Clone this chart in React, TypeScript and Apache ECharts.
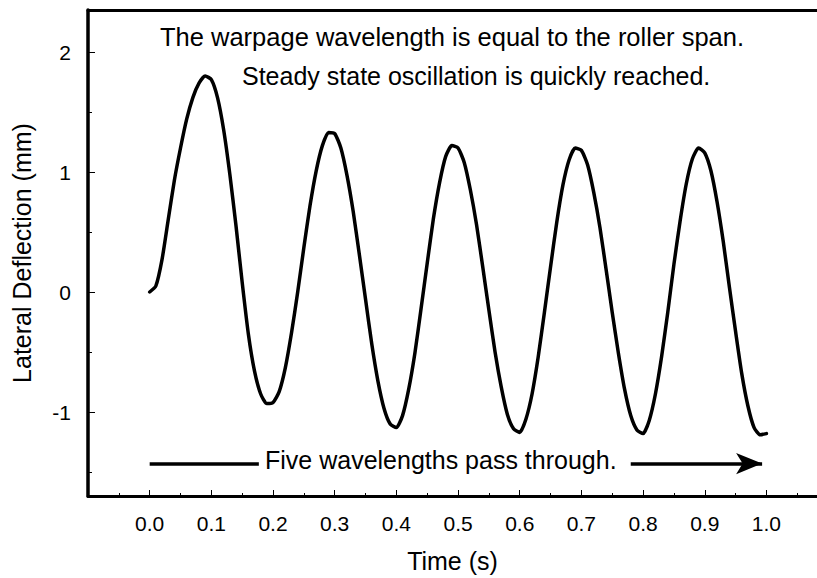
import React, { useEffect, useRef } from "react";
import * as echarts from "echarts";

const time = [
  0.0, 0.01, 0.02, 0.03, 0.04, 0.05, 0.06, 0.07, 0.08, 0.09,
  0.1, 0.11, 0.12, 0.13, 0.14, 0.15, 0.16, 0.17, 0.18, 0.19,
  0.2, 0.21, 0.22, 0.23, 0.24, 0.25, 0.26, 0.27, 0.28, 0.29,
  0.3, 0.31, 0.32, 0.33, 0.34, 0.35, 0.36, 0.37, 0.38, 0.39,
  0.4, 0.41, 0.42, 0.43, 0.44, 0.45, 0.46, 0.47, 0.48, 0.49,
  0.5, 0.51, 0.52, 0.53, 0.54, 0.55, 0.56, 0.57, 0.58, 0.59,
  0.6, 0.61, 0.62, 0.63, 0.64, 0.65, 0.66, 0.67, 0.68, 0.69,
  0.7, 0.71, 0.72, 0.73, 0.74, 0.75, 0.76, 0.77, 0.78, 0.79,
  0.8, 0.81, 0.82, 0.83, 0.84, 0.85, 0.86, 0.87, 0.88, 0.89,
  0.9, 0.91, 0.92, 0.93, 0.94, 0.95, 0.96, 0.97, 0.98, 0.99,
  1.0,
];

const deflection = [
  0.0, 0.05, 0.27, 0.6, 0.93, 1.2, 1.44, 1.62, 1.74, 1.8,
  1.77, 1.62, 1.35, 0.98, 0.55, 0.08, -0.35, -0.66, -0.85, -0.93,
  -0.92, -0.83, -0.63, -0.34, 0.0, 0.37, 0.72, 1.01, 1.22, 1.33,
  1.32, 1.2, 0.97, 0.67, 0.31, -0.06, -0.43, -0.74, -0.97, -1.1,
  -1.13, -1.03, -0.81, -0.51, -0.14, 0.24, 0.61, 0.91, 1.13, 1.22,
  1.2, 1.08, 0.85, 0.56, 0.21, -0.15, -0.5, -0.79, -1.02, -1.14,
  -1.17, -1.06, -0.85, -0.54, -0.17, 0.21, 0.58, 0.89, 1.1, 1.2,
  1.18, 1.06, 0.83, 0.54, 0.19, -0.17, -0.51, -0.81, -1.03, -1.15,
  -1.18, -1.07, -0.85, -0.54, -0.17, 0.23, 0.59, 0.9, 1.11, 1.2,
  1.16, 1.01, 0.75, 0.42, 0.04, -0.33, -0.68, -0.95, -1.13, -1.19,
  -1.18,
];

const yMajorTicks = [-1, 0, 1, 2];
const yMinorTicks = [-1.5, -0.5, 0.5, 1.5];
const noteLines = [
  "The warpage wavelength is equal to the roller span.",
  "Steady state oscillation is quickly reached.",
];
const arrowText = "Five wavelengths pass through.";
const arrowLevel = -1.43;
const arrowLeftSpan = [0.0, 0.177];
const arrowRightSpan = [0.78, 0.993];

const FONT = '"Liberation Sans", Arial, sans-serif';

export default function App() {
  const ref = useRef<HTMLDivElement>(null);

  useEffect(() => {
    const chart = echarts.init(ref.current!, null, { renderer: "svg" });
    const black = "#000";
    chart.setOption({
      animation: false,
      backgroundColor: "#fff",
      grid: { left: 88, top: 10, right: 0, bottom: 82 },
      xAxis: [
        {
          type: "value",
          min: -0.1,
          max: 1.082,
          interval: 0.1,
          name: "Time (s)",
          nameLocation: "middle",
          nameGap: 52,
          nameTextStyle: { color: black, fontSize: 25, fontFamily: FONT },
          axisLine: { show: true, onZero: false, lineStyle: { color: black, width: 3 } },
          axisTick: { show: true, inside: true, length: 6, lineStyle: { color: black, width: 1 } },
          minorTick: { show: true, splitNumber: 2, length: 3, lineStyle: { color: black, width: 1 } },
          axisLabel: {
            color: black,
            fontSize: 21,
            fontFamily: FONT,
            margin: 17,
            showMaxLabel: false,
            formatter: (v: number) => (v < -0.001 || v > 1.001 ? "" : v.toFixed(1)),
          },
          splitLine: { show: false },
          minorSplitLine: { show: false },
        },
        {
          type: "value",
          position: "top",
          min: -0.1,
          max: 1.082,
          axisLine: { show: true, onZero: false, lineStyle: { color: black, width: 3 } },
          axisTick: { show: false },
          axisLabel: { show: false },
          splitLine: { show: false },
        },
      ],
      yAxis: [
        {
          type: "value",
          min: -1.7,
          max: 2.35,
          name: "Lateral Deflection (mm)",
          nameLocation: "middle",
          nameGap: 54,
          nameTextStyle: { color: black, fontSize: 25, fontFamily: FONT },
          axisLine: { show: true, onZero: false, lineStyle: { color: black, width: 3.5 } },
          axisTick: {
            show: true,
            inside: true,
            length: 7,
            customValues: yMajorTicks,
            lineStyle: { color: black, width: 1 },
          },
          axisLabel: {
            color: black,
            fontSize: 21,
            fontFamily: FONT,
            margin: 17,
            customValues: yMajorTicks,
          },
          splitLine: { show: false },
        },
        {
          type: "value",
          min: -1.7,
          max: 2.35,
          position: "left",
          axisLine: { show: false, onZero: false },
          axisTick: {
            show: true,
            inside: true,
            length: 4,
            customValues: yMinorTicks,
            lineStyle: { color: black, width: 1 },
          },
          axisLabel: { show: false },
          splitLine: { show: false },
        },
      ],
      series: [
        {
          type: "line",
          xAxisIndex: 0,
          yAxisIndex: 0,
          data: time.map((t, i) => [t, deflection[i]]),
          showSymbol: false,
          symbol: "none",
          smooth: 0.2,
          lineStyle: { color: black, width: 3.5, join: "round", cap: "round" },
          markLine: {
            silent: true,
            animation: false,
            symbol: ["none", "arrow"],
            symbolSize: [16, 26],
            label: { show: false },
            lineStyle: { color: black, width: 3.5, type: "solid" },
            data: [
              [
                { coord: [arrowLeftSpan[0], arrowLevel], symbol: "none" },
                { coord: [arrowLeftSpan[1], arrowLevel], symbol: "none" },
              ],
              [
                { coord: [arrowRightSpan[0], arrowLevel], symbol: "none" },
                { coord: [arrowRightSpan[1], arrowLevel], symbol: "arrow" },
              ],
            ],
          },
        },
      ],
      graphic: [
        {
          type: "text",
          x: 160,
          y: 37,
          style: { text: noteLines[0], fontSize: 25.5, fontFamily: FONT, fill: black, align: "left", verticalAlign: "middle" },
        },
        {
          type: "text",
          x: 242,
          y: 76,
          style: { text: noteLines[1], fontSize: 25, fontFamily: FONT, fill: black, align: "left", verticalAlign: "middle" },
        },
        {
          type: "text",
          x: 265,
          y: 460,
          style: { text: arrowText, fontSize: 25, fontFamily: FONT, fill: black, align: "left", verticalAlign: "middle" },
        },
      ],
    });
    return () => chart.dispose();
  }, []);

  return (
    <div
      ref={ref}
      style={{ position: "fixed", left: 0, top: 0, width: 817, height: 578, background: "#fff" }}
    />
  );
}
